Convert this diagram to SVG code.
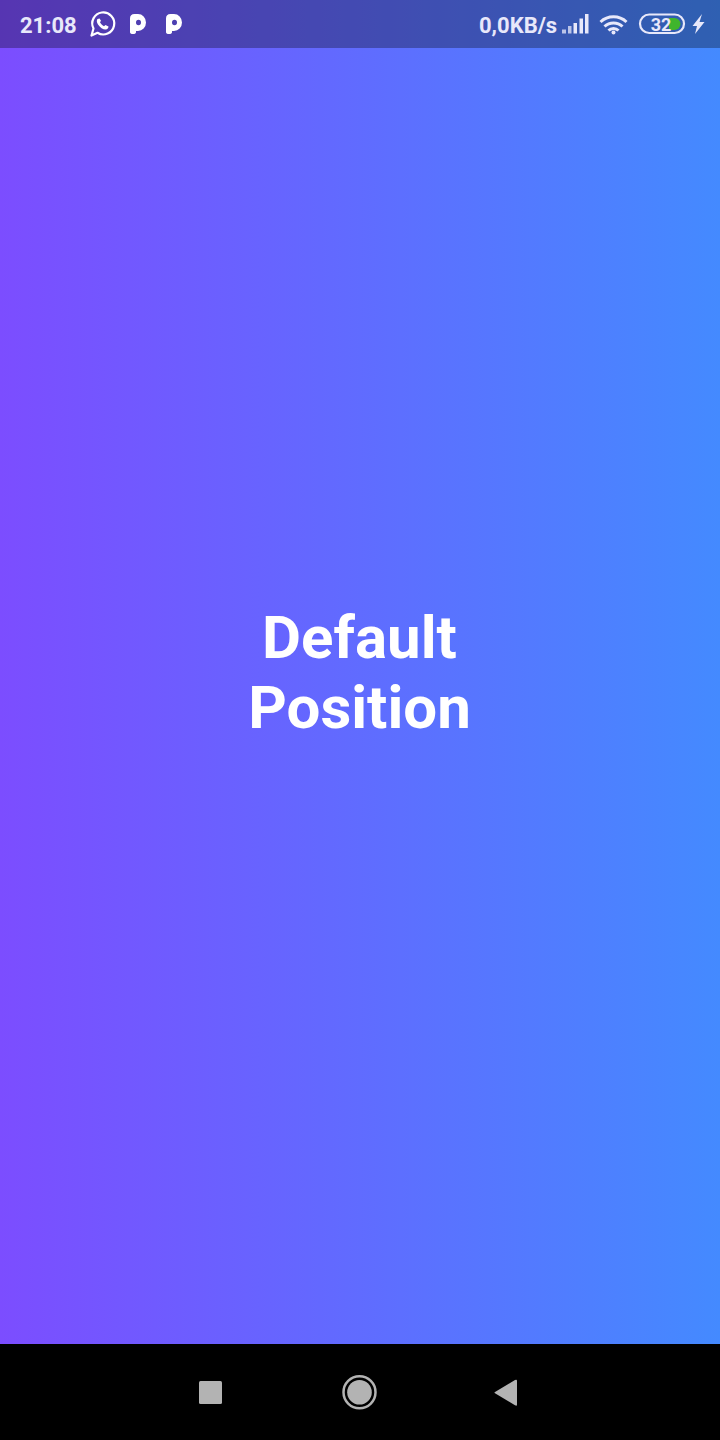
<svg xmlns="http://www.w3.org/2000/svg" width="720" height="1440" viewBox="0 0 720 1440">
<defs>
<linearGradient id="bg" x1="0" y1="0" x2="1" y2="0"><stop offset="0" stop-color="#7c4dff"/><stop offset="1" stop-color="#448aff"/></linearGradient>
<path id="pk" fill="#fff" fill-rule="evenodd" d="M130 18.500 Q130 14 134.500 14 L138 14 A8 8.500 0 0 1 138 31 L136 31 L136 32 Q136 34 133 34 Q130 34 130 32 Z M136 22.500 A2.500 2.800 0 1 0 141 22.500 A2.500 2.800 0 1 0 136 22.500 Z"/>
</defs>
<style>
text{font-family:Roboto,"Liberation Sans",sans-serif}
.title{font-size:60px;font-weight:700;fill:#fff;text-anchor:middle}
.st{font-size:22px;font-weight:700;fill:#e8e8fa}
.nav{fill:#b3b3b3}
</style>
<rect id="background" width="720" height="1344" fill="url(#bg)"/>
<rect id="statusbar" width="720" height="48" fill="#000" fill-opacity="0.3"/>
<g id="status-left">
<text class="st" x="20" y="33">21:08</text>
<g id="whatsapp">
<path d="M91.500 35.500 L93.500 28.500 A11 11 0 1 1 97.500 32.800 Z" fill="none" stroke="#fff" stroke-width="2.200" stroke-linejoin="round"/>
<path d="M97.500 19 C96.500 20 96.500 22 98 24.500 C100 27.500 103 29.500 105.500 29.500 C107.500 29.500 108.500 28 108.500 26.500 L105.500 25 L104 26.200 C102.500 25.500 100.500 23.500 100 22.300 L101 20.800 L99.600 18.500 Z" fill="#fff"/>
</g>
<use id="p1" href="#pk"/>
<use id="p2" href="#pk" x="36"/>
</g>
<g id="status-right">
<text class="st" x="479" y="33">0,0KB/s</text>
<g id="signal" fill="#e8e8fa">
<rect x="562" y="29.500" width="4" height="4" fill-opacity="0.75"/>
<rect x="568" y="26" width="3.500" height="7.500" fill-opacity="0.75"/>
<rect x="573.500" y="23" width="3.500" height="10.500"/>
<rect x="579.500" y="18.500" width="3.500" height="15"/>
<rect x="585" y="14" width="3.500" height="19.500"/>
</g>
<g id="wifi" fill="none" stroke="#e8e8fa" stroke-width="3">
<path d="M600.500 22 A19 19 0 0 1 626.500 22"/>
<path d="M604.500 26.500 A13 13 0 0 1 622.500 26.500"/>
<path d="M608.500 30.500 A7 7 0 0 1 618.500 30.500"/>
<circle cx="613.500" cy="32.500" r="2" fill="#e8e8fa" stroke="none"/>
</g>
<g id="battery">
<rect x="640" y="14.500" width="44" height="18.500" rx="9.250" fill="none" stroke="#e8e8fa" stroke-width="2.200"/>
<path d="M669 18 L674.500 18 A6 6 0 0 1 674.500 30 L669 30 Z" fill="#3fb52c"/>
<text x="661" y="30.500" font-size="18" font-weight="700" fill="#e8e8fa" text-anchor="middle">32</text>
</g>
<path id="bolt" fill="#e8e8fa" d="M702 14 L692.500 26 L697 26 L695 34 L704.500 22 L699.500 22 Z"/>
</g>
<g id="label"><text class="title" x="359.500" y="658">Default</text><text class="title" x="359.500" y="728">Position</text></g>
<g id="navbar">
<rect y="1344" width="720" height="96" fill="#000"/>
<rect class="nav" x="199" y="1381" width="23" height="23" rx="1.500"/>
<circle cx="359.500" cy="1392.300" r="16" fill="none" stroke="#b3b3b3" stroke-width="2.500"/>
<circle class="nav" cx="359.500" cy="1392.300" r="12.300"/>
<path class="nav" d="M517 1381 L517 1404.500 Q517 1406.500 515 1405.300 L495 1393.300 Q494 1392.700 495 1392.100 L515 1380.100 Q517 1379 517 1381 Z"/>
</g>
</svg>
